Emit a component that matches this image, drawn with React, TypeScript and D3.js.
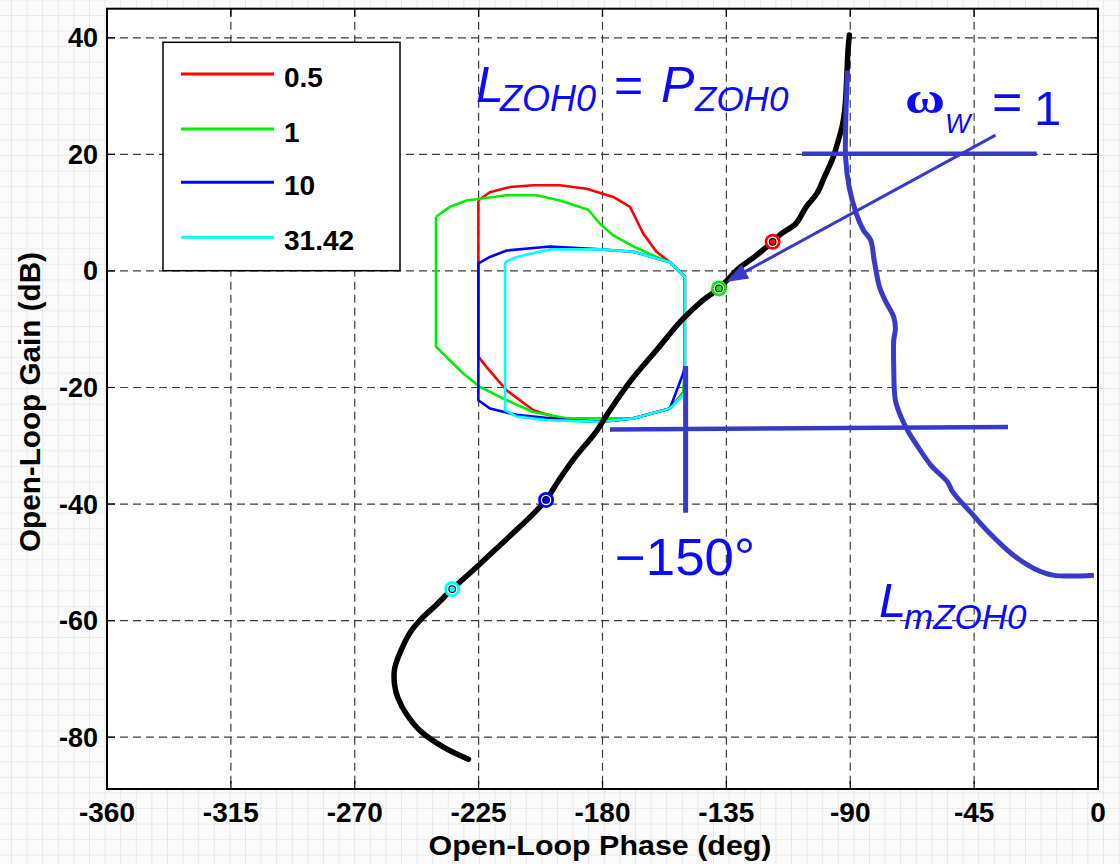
import React from "react";
import * as d3 from "d3";

// ---- data ----
const PHASE_TICKS = [-360, -315, -270, -225, -180, -135, -90, -45, 0];
const GAIN_TICKS = [-80, -60, -40, -20, 0, 20, 40];

const LEGEND_LABELS = ["0.5", "1", "10", "31.42"];
const SERIES_COLORS = ["#ff0000", "#00ee00", "#0000ff", "#00ffff"];

// Closed-loop contours (phase deg, gain dB)
const LOOP_05: [number, number][] = [
  [-225.1, 12.1], [-220.9, 13.5], [-213.6, 14.4], [-205.1, 14.7], [-195.5, 14.7],
  [-185.8, 14.1], [-176.1, 12.7], [-170, 11], [-167.6, 8.7], [-165.2, 6.4],
  [-160.4, 3.3], [-155.5, 1.5], [-150.1, -1.0], [-150.1, -20.5], [-155.5, -23.6],
  [-168.8, -25.3], [-180.9, -25.9], [-195.5, -25.3], [-205.1, -23.9], [-214.8, -20.5],
  [-222.1, -16.5], [-225.1, -14.7], [-225.1, 12.1],
];
const LOOP_1: [number, number][] = [
  [-240.5, 9.3], [-235.4, 11.0], [-229.3, 12.1], [-214.8, 13.0], [-204, 13.0],
  [-195.5, 12.1], [-185.2, 10.5], [-180.9, 8.1], [-176.1, 6.1], [-168.8, 4.2],
  [-160.4, 2.4], [-155.5, 1.5], [-150.1, -1.0], [-150.1, -16.2], [-150.7, -21],
  [-155.5, -23.6], [-168.8, -25.3], [-193, -25.3], [-205.1, -24.2], [-214.8, -22.2],
  [-224.5, -19.9], [-230.6, -17.6], [-240.5, -13.0], [-240.5, 9.3],
];
const LOOP_10: [number, number][] = [
  [-225.1, 1.3], [-220.9, 2.4], [-214.8, 3.5], [-199.1, 4.2], [-180.9, 3.7],
  [-168.8, 3.3], [-155.5, 1.5], [-150.1, -1.0], [-150.1, -16.2], [-150.7, -17.6],
  [-155.5, -23.6], [-168.8, -25.3], [-180.9, -25.9], [-193, -25.6], [-211.2, -24.7],
  [-220.9, -23.6], [-225.1, -22.2], [-225.1, 1.3],
];
const LOOP_3142: [number, number][] = [
  [-215.4, 1.5], [-211.2, 2.4], [-199.1, 3.7], [-180.9, 3.7], [-168.8, 3.3],
  [-155.5, 1.5], [-150.1, -1.0], [-150.1, -21], [-155.5, -23.6], [-168.8, -25.3],
  [-180.9, -25.9], [-200.3, -25.6], [-211.2, -25.0], [-215.4, -23.9], [-215.4, 1.5],
];
const LOOPS = [LOOP_05, LOOP_1, LOOP_10, LOOP_3142];

// Open-loop Nichols curve L_ZOH0
const NICHOLS_CURVE: [number, number][] = [
  [-90.3, 40.5], [-90.8, 38], [-91.2, 34], [-91.7, 29.3], [-92.3, 26.5], [-93, 24.7],
  [-95, 21.3], [-96.2, 19.5], [-99.4, 16.1], [-102.1, 13.3], [-106, 11],
  [-109.8, 8.1], [-115, 6.4], [-118.2, 5.0], [-124.8, 2.4], [-130.6, 0.4], [-137.7, -3.0],
  [-143.5, -5], [-151.3, -8.5], [-160.4, -13.6], [-169.5, -18.7], [-177.3, -23.9],
  [-182.5, -27.7], [-190, -32], [-196, -36], [-200.5, -39.3], [-206.9, -42.5],
  [-212.1, -44.8], [-217.3, -47.1], [-225, -50.5], [-234.6, -54.6], [-240.6, -57.4],
  [-245.8, -59.7], [-249.7, -61.9], [-252.9, -64.8], [-255.5, -68.2], [-255.5, -71.1],
  [-254.2, -73.4], [-251, -76.2], [-245.8, -79.1], [-237.8, -81.7], [-228.7, -83.8],
];

// frequency markers on the curve (same order as legend)
const MARKER_POINTS: [number, number][] = [
  [-118.2, 5.0], [-137.7, -3.0], [-200.5, -39.3], [-234.6, -54.6],
];

// bound curve L_mZOH0
const BOUND_CURVE: [number, number][] = [
  [-91.0, 34.4], [-91.5, 28], [-91.7, 23.6], [-91.7, 19.5], [-90.4, 14.4], [-87.8, 9.8],
  [-85.2, 7.0], [-82.6, 5.3], [-81.3, 1.8], [-79.4, -2.7], [-77.4, -5.0], [-74.2, -7.9],
  [-73.6, -9.9], [-74.2, -11.9], [-74.2, -16.5], [-73.6, -22.2], [-71.6, -25.0],
  [-69, -27.5], [-65.8, -29.9], [-60.6, -33.4], [-54.7, -36.2], [-52.8, -37.9],
  [-46.3, -41.4], [-39.8, -44.8], [-30.7, -48.8], [-23.1, -51.1], [-16.4, -52.2],
  [-1.5, -52.2],
];

// annotation lines
const UPPER_HLINE: [number, number][] = [[-107.5, 20.1], [-22.3, 20.1]];
const LOWER_HLINE: [number, number][] = [[-177.3, -27.2], [-32.7, -26.8]];
const PM_VLINE: [number, number][] = [[-149.8, -16.3], [-149.8, -41.5]];
const ARROW: [number, number][] = [[-37.2, 23.3], [-135.1, -1.9]];

// ---- layout ----
const W = 1120;
const H = 864;
const PL = 107, PR = 1098, PT = 8.7, PB = 789;

const x = d3.scaleLinear().domain([-360, 0]).range([PL, PR]);
const y = d3.scaleLinear().domain([-88.9, 45]).range([PB, PT]);

const line = d3.line<[number, number]>().x((d) => x(d[0])).y((d) => y(d[1]));
const smooth = d3
  .line<[number, number]>()
  .x((d) => x(d[0]))
  .y((d) => y(d[1]))
  .curve(d3.curveCatmullRom.alpha(0.5));

const ANN = "#3a3ac8";
const TXT = "#0a0aff";
const SANS = "'Liberation Sans', Arial, Helvetica, sans-serif";

function arrowHead(p0: [number, number], p1: [number, number]) {
  const x0 = x(p0[0]), y0 = y(p0[1]), x1 = x(p1[0]), y1 = y(p1[1]);
  const dx = x1 - x0, dy = y1 - y0;
  const L = Math.hypot(dx, dy);
  const ux = dx / L, uy = dy / L;
  const hl = 22, hw = 8;
  const bx = x1 - ux * hl, by = y1 - uy * hl;
  return {
    poly: `${x1},${y1} ${bx - uy * hw},${by + ux * hw} ${bx + uy * hw},${by - ux * hw}`,
    shaft: `M${x0},${y0}L${bx + ux * 2},${by + uy * 2}`,
  };
}

export default function App() {
  const head = arrowHead(ARROW[0], ARROW[1]);
  const gridX = PHASE_TICKS.filter((t) => t > -360 && t < 0);
  const legendX = 163, legendY = 42.3, legendW = 237, legendH = 228.4;
  const legendRows = [74, 129, 182.3, 237.3];
  return (
    <svg
      width={W}
      height={H}
      style={{ position: "absolute", left: 0, top: 0, display: "block" }}
      fontFamily={SANS}
    >
      <defs>
        <pattern id="paper" x={11} y={15} width={15.6} height={15.55} patternUnits="userSpaceOnUse">
          <rect width={15.6} height={15.55} fill="#fbfbfb" />
          <path d="M0,0H15.6M0,0V15.55" stroke="#e6e6e6" strokeWidth={1.6} />
        </pattern>
        <clipPath id="plotclip">
          <rect x={PL} y={PT} width={PR - PL} height={PB - PT} />
        </clipPath>
      </defs>
      <rect width={W} height={H} fill="url(#paper)" />
      <rect x={PL} y={PT} width={PR - PL} height={PB - PT} fill="#ffffff" />

      {/* grid */}
      <g stroke="#3c3c3c" strokeWidth={1.2} strokeDasharray="8,5">
        {gridX.map((t) => (
          <line key={"gx" + t} x1={x(t)} x2={x(t)} y1={PT} y2={PB} />
        ))}
        {GAIN_TICKS.map((t) => (
          <line key={"gy" + t} x1={PL} x2={PR} y1={y(t)} y2={y(t)} />
        ))}
      </g>

      {/* ticks */}
      <g stroke="#000" strokeWidth={1.2}>
        {PHASE_TICKS.map((t) => (
          <g key={"tx" + t}>
            <line x1={x(t)} x2={x(t)} y1={PB} y2={PB - 8} />
            <line x1={x(t)} x2={x(t)} y1={PT} y2={PT + 8} />
          </g>
        ))}
        {GAIN_TICKS.map((t) => (
          <g key={"ty" + t}>
            <line x1={PL} x2={PL + 8} y1={y(t)} y2={y(t)} />
            <line x1={PR} x2={PR - 8} y1={y(t)} y2={y(t)} />
          </g>
        ))}
      </g>

      {/* legend */}
      <rect x={legendX} y={legendY} width={legendW} height={legendH} fill="#fff" stroke="#000" strokeWidth={1.5} />
      {LEGEND_LABELS.map((lab, i) => (
        <g key={lab}>
          <line x1={181} x2={274} y1={legendRows[i]} y2={legendRows[i]} stroke={SERIES_COLORS[i]} strokeWidth={3} />
          <text x={284} y={legendRows[i] + 13} fontSize={28} fontWeight="bold" fill="#000">
            {lab}
          </text>
        </g>
      ))}

      <g clipPath="url(#plotclip)">
        {/* closed-loop contours */}
        {LOOPS.map((pts, i) => (
          <path key={"loop" + i} d={line(pts) || ""} fill="none" stroke={SERIES_COLORS[i]} strokeWidth={2.6} strokeLinejoin="round" />
        ))}

        {/* Nichols curve */}
        <path d={smooth(NICHOLS_CURVE) || ""} fill="none" stroke="#000" strokeWidth={5.5} strokeLinecap="round" strokeLinejoin="round" />

        {/* annotations */}
        <path d={smooth(BOUND_CURVE) || ""} fill="none" stroke={ANN} strokeWidth={5} strokeLinejoin="round" />
        <path d={line(UPPER_HLINE) || ""} stroke={ANN} strokeWidth={4.5} />
        <path d={line(LOWER_HLINE) || ""} stroke={ANN} strokeWidth={4.5} />
        <path d={line(PM_VLINE) || ""} stroke={ANN} strokeWidth={5} />
        <path d={head.shaft} stroke={ANN} strokeWidth={3} />
        <polygon points={head.poly} fill={ANN} />

        {/* markers */}
        {MARKER_POINTS.map((p, i) => (
          <g key={"m" + i} transform={`translate(${x(p[0])},${y(p[1])})`}>
            <circle r={8} fill={SERIES_COLORS[i]} />
            <circle r={5.2} fill="#fff" />
            <circle r={3.9} fill="#000" />
            <circle r={2.9} fill={SERIES_COLORS[i]} />
          </g>
        ))}
      </g>

      {/* frame */}
      <rect x={PL} y={PT} width={PR - PL} height={PB - PT} fill="none" stroke="#000" strokeWidth={2} />

      {/* tick labels */}
      {PHASE_TICKS.map((t) => (
        <text key={"lx" + t} x={x(t)} y={822} textAnchor="middle" fontSize={28} fontWeight="bold" fill="#000">
          {t}
        </text>
      ))}
      {GAIN_TICKS.map((t) => (
        <text key={"ly" + t} x={98} y={y(t) + 9.5} textAnchor="end" fontSize={27} fontWeight="bold" fill="#000">
          {t}
        </text>
      ))}

      {/* axis titles */}
      <text x={600} y={855} textAnchor="middle" fontSize={28} fontWeight="bold" textLength={343} lengthAdjust="spacingAndGlyphs" fill="#000">
        Open-Loop Phase (deg)
      </text>
      <text
        transform={`translate(39.5,402) rotate(-90)`}
        textAnchor="middle"
        fontSize={29}
        fontWeight="bold"
        textLength={300}
        lengthAdjust="spacingAndGlyphs"
        fill="#000"
      >
        Open-Loop Gain (dB)
      </text>

      {/* annotation texts */}
      <g fill={TXT}>
        <text x={476} y={102} fontSize={50} fontStyle="italic">
          <tspan>L</tspan>
          <tspan x={500} y={111} fontSize={36}>ZOH0</tspan>
          <tspan x={614} y={102} fontStyle="normal">=</tspan>
          <tspan x={661} y={102}>P</tspan>
          <tspan x={695} y={111} fontSize={35}>ZOH0</tspan>
        </text>

        <text x={905} y={113} fontSize={45} fontWeight="bold" fontFamily="'Liberation Serif', 'DejaVu Serif', serif" textLength={40} lengthAdjust="spacingAndGlyphs">
          ω
        </text>
        <text x={945} y={133} fontSize={27} fontStyle="italic">
          <tspan>W</tspan>
          <tspan x={992} y={120} fontSize={52} fontStyle="normal">=</tspan>
          <tspan x={1034} y={125} fontSize={49} fontStyle="normal">1</tspan>
        </text>

        <text x={615} y={575} fontSize={51} textLength={140} lengthAdjust="spacingAndGlyphs">−150°</text>

        <text x={879} y={617} fontSize={49} fontStyle="italic">
          <tspan>L</tspan>
          <tspan x={904} y={629} fontSize={35}>mZOH0</tspan>
        </text>
      </g>
    </svg>
  );
}
